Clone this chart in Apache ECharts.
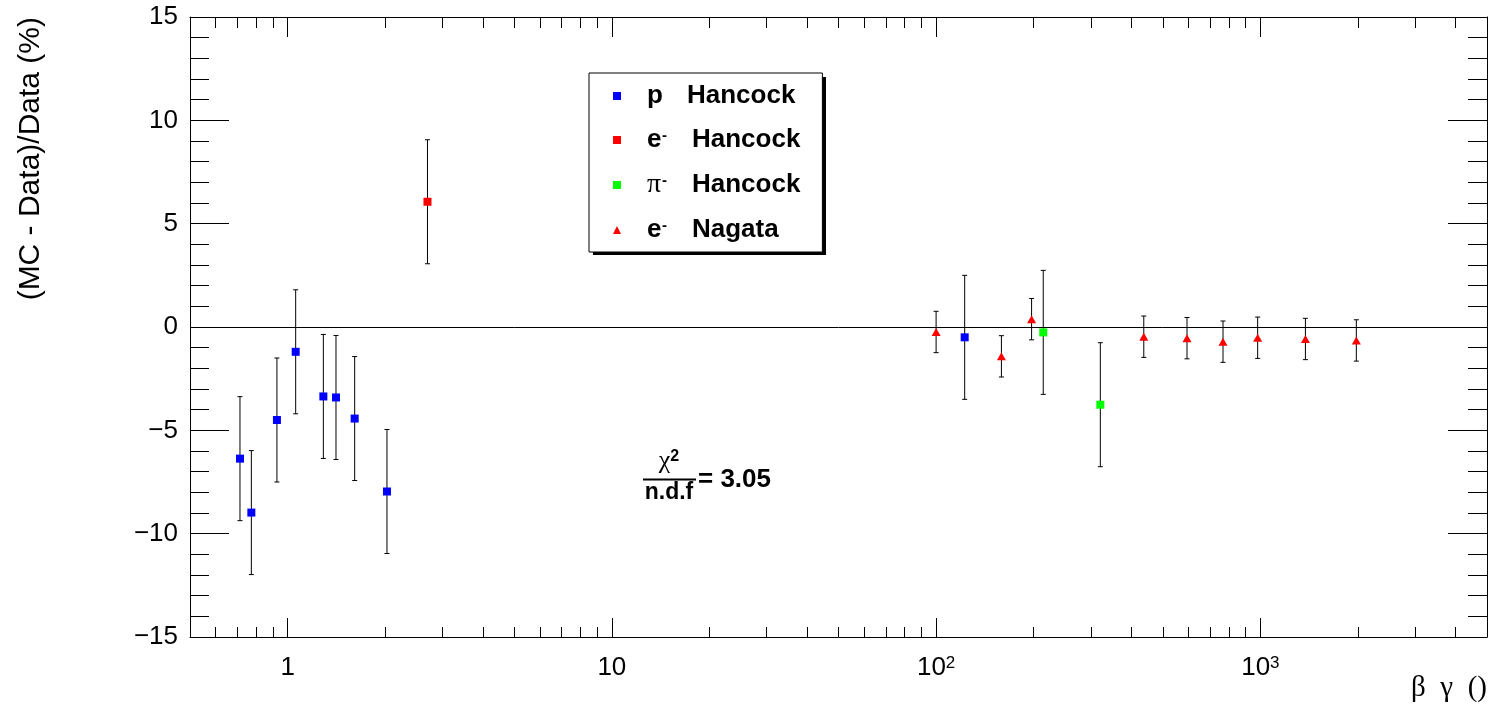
<!DOCTYPE html>
<html>
<head>
<meta charset="utf-8">
<title>(MC - Data)/Data vs beta gamma</title>
<script src="https://cdn.jsdelivr.net/npm/echarts@6/dist/echarts.min.js"></script>
<style>
  html, body { margin: 0; padding: 0; background: #fff; }
  #chart { width: 1493px; height: 707px; }
</style>
</head>
<body>
<div id="chart"></div>
<script>
// values: beta*gamma, (MC - Data)/Data in %, error
var pHancockX = [0.713, 0.773, 0.927, 1.059, 1.289, 1.41, 1.61, 2.025, 122.5];
var pHancockY = [-6.37, -8.98, -4.5, -1.2, -3.36, -3.41, -4.43, -7.96, -0.5];
var pHancockErr = [3, 3, 3, 3, 3, 3, 3, 3, 3];

var eHancockX = [2.70];
var eHancockY = [6.06];
var eHancockErr = [3];

var piHancockX = [214, 321];
var piHancockY = [-0.26, -3.76];
var piHancockErr = [3, 3];

var eNagataX = [100, 159, 197, 437, 594, 767, 981, 1377, 1977];
var eNagataY = [-0.24, -1.42, 0.38, -0.47, -0.54, -0.71, -0.52, -0.58, -0.65];
var eNagataErr = [1, 1, 1, 1, 1, 1, 1, 1, 1];

var xMajorTicks = [1, 10, 100, 1000];
var xMinorTicks = [0.6, 0.7, 0.8, 0.9, 2, 3, 4, 5, 6, 7, 8, 9,
    20, 30, 40, 50, 60, 70, 80, 90, 200, 300, 400, 500, 600, 700, 800, 900,
    2000, 3000, 4000];

var chart = echarts.init(document.getElementById('chart'));

var pairs = function (xs, ys) {
    return xs.map(function (x, i) { return [x, ys[i]]; });
};
var errRows = function (xs, ys, es) {
    return xs.map(function (x, i) { return [x, ys[i], es[i]]; });
};

var errData = [].concat(
    errRows(pHancockX, pHancockY, pHancockErr),
    errRows(eHancockX, eHancockY, eHancockErr),
    errRows(piHancockX, piHancockY, piHancockErr),
    errRows(eNagataX, eNagataY, eNagataErr)
);

var FONT = 'Liberation Sans';
var black = '#000';
var lineBlack = {color: black, width: 1};

var logAxis = function (pos, tickLen, ticks, withLine) {
    return {
        type: 'log', logBase: 10, min: 0.5, max: 5000,
        position: pos,
        axisLine: {show: withLine, onZero: false, lineStyle: lineBlack},
        axisTick: {show: true, inside: true, length: tickLen, customValues: ticks, lineStyle: lineBlack},
        axisLabel: {show: false},
        splitLine: {show: false},
        minorTick: {show: false},
        minorSplitLine: {show: false}
    };
};

var xBottom = logAxis('bottom', 19, xMajorTicks, true);
xBottom.axisLabel = {
    show: true,
    customValues: xMajorTicks,
    margin: 18,
    color: black,
    fontFamily: FONT,
    fontSize: 26,
    formatter: function (v) {
        var p = Math.round(Math.log(v) / Math.LN10);
        if (p < 2) return String(Math.round(v));
        return '{b|10}{s|' + p + '}';
    },
    rich: {
        b: {fontFamily: FONT, fontSize: 26, color: black, lineHeight: 26},
        s: {fontFamily: FONT, fontSize: 17, color: black, verticalAlign: 'top', lineHeight: 14}
    }
};
xBottom.name = 'β  γ  ()';
xBottom.nameLocation = 'end';
xBottom.nameGap = 0;
xBottom.nameTextStyle = {
    fontFamily: 'Liberation Serif', fontSize: 29, color: black,
    align: 'right', verticalAlign: 'top', padding: [37, 0, 0, 0]
};

var valAxis = function (pos, showLabel) {
    return {
        type: 'value', min: -15, max: 15, interval: 5,
        position: pos,
        axisLine: {show: true, onZero: false, lineStyle: lineBlack},
        axisTick: {show: true, inside: true, length: 39, lineStyle: lineBlack},
        minorTick: {show: true, splitNumber: 5, length: 19, lineStyle: lineBlack},
        splitLine: {show: false},
        minorSplitLine: {show: false},
        axisLabel: {
            show: showLabel,
            margin: 12,
            color: black,
            fontFamily: FONT,
            fontSize: 26,
            formatter: function (v) {
                return v < 0 ? '\u2212' + Math.abs(v) : String(v);
            }
        }
    };
};

var legendLabels = {
    'p Hancock': '{p|p}{t|Hancock}',
    'e- Hancock': '{e|e}{sup|-}{t|Hancock}',
    'π- Hancock': '{pi|π}{sup|-}{t|Hancock}',
    'e- Nagata': '{e|e}{sup|-}{t|Nagata}'
};

var option = {
    animation: false,
    backgroundColor: '#fff',
    grid: {left: 190, top: 17, width: 1297, height: 620, containLabel: false},
    xAxis: [
        xBottom,
        logAxis('bottom', 10, xMinorTicks, false),
        logAxis('top', 20, xMajorTicks, true),
        logAxis('top', 11, xMinorTicks, false)
    ],
    yAxis: [valAxis('left', true), valAxis('right', false)],
    legend: {
        orient: 'vertical',
        left: 589,
        top: 73,
        padding: [10, 22, 9, 24],
        itemGap: 18,
        itemWidth: 8,
        itemHeight: 8,
        backgroundColor: '#fff',
        borderColor: black,
        borderWidth: 1,
        z: 5,
        selectedMode: false,
        data: [
            {name: 'p Hancock', icon: 'rect'},
            {name: 'e- Hancock', icon: 'rect'},
            {name: 'π- Hancock', icon: 'rect'},
            {name: 'e- Nagata', icon: 'triangle'}
        ],
        formatter: function (name) { return legendLabels[name]; },
        textStyle: {
            padding: [0, 0, 0, 21],
            rich: {
                p: {fontFamily: FONT, fontWeight: 'bold', fontSize: 26, color: black, width: 40, lineHeight: 24},
                e: {fontFamily: FONT, fontWeight: 'bold', fontSize: 26, color: black, width: 15, lineHeight: 24},
                pi: {fontFamily: 'Liberation Serif', fontSize: 28, color: black, width: 15, lineHeight: 24},
                sup: {fontFamily: FONT, fontWeight: 'bold', fontSize: 15, color: black, width: 30, lineHeight: 12, verticalAlign: 'top'},
                t: {fontFamily: FONT, fontWeight: 'bold', fontSize: 26, color: black, lineHeight: 24}
            }
        }
    },
    graphic: [
        {
            // hard drop shadow behind the legend box
            type: 'rect',
            z: 4,
            shape: {x: 593, y: 77, width: 233, height: 178},
            style: {fill: black}
        },
        {
            type: 'text',
            x: 31, y: 17,
            rotation: Math.PI / 2,
            style: {
                text: '(MC - Data)/Data (%)',
                fontFamily: FONT, fontSize: 30, fill: black,
                align: 'right', verticalAlign: 'middle'
            }
        },
        {
            type: 'group',
            children: [
                {
                    type: 'text', x: 669, y: 461,
                    style: {
                        text: '{c|χ}{s|2}',
                        align: 'center', verticalAlign: 'middle',
                        rich: {
                            c: {fontFamily: 'Liberation Serif', fontSize: 26, fill: black, lineHeight: 24},
                            s: {fontFamily: FONT, fontWeight: 'bold', fontSize: 16, fill: black, lineHeight: 14, verticalAlign: 'top'}
                        }
                    }
                },
                {
                    type: 'line',
                    shape: {x1: 643, y1: 479.5, x2: 696, y2: 479.5},
                    style: {stroke: black, lineWidth: 2}
                },
                {
                    type: 'text', x: 669, y: 493,
                    style: {
                        text: 'n.d.f', fontFamily: FONT, fontWeight: 'bold', fontSize: 23, fill: black,
                        align: 'center', verticalAlign: 'middle'
                    }
                },
                {
                    type: 'text', x: 698, y: 480,
                    style: {
                        text: '= 3.05', fontFamily: FONT, fontWeight: 'bold', fontSize: 26, fill: black,
                        align: 'left', verticalAlign: 'middle'
                    }
                }
            ]
        }
    ],
    series: [
        {
            name: 'errors',
            type: 'custom',
            xAxisIndex: 0,
            yAxisIndex: 0,
            z: 1,
            silent: true,
            encode: {x: 0, y: 1},
            data: errData,
            renderItem: function (params, api) {
                var x = api.value(0), y = api.value(1), e = api.value(2);
                var top = api.coord([x, y + e]);
                var bot = api.coord([x, y - e]);
                var st = {stroke: black, lineWidth: 1};
                return {
                    type: 'group',
                    children: [
                        {type: 'line', shape: {x1: top[0], y1: top[1], x2: bot[0], y2: bot[1]}, style: st},
                        {type: 'line', shape: {x1: top[0] - 2.5, y1: top[1], x2: top[0] + 2.5, y2: top[1]}, style: st},
                        {type: 'line', shape: {x1: bot[0] - 2.5, y1: bot[1], x2: bot[0] + 2.5, y2: bot[1]}, style: st}
                    ]
                };
            }
        },
        {
            name: 'p Hancock',
            type: 'scatter',
            z: 3,
            symbol: 'rect',
            symbolSize: 8,
            itemStyle: {color: '#0000ff', opacity: 1},
            data: pairs(pHancockX, pHancockY),
            markLine: {
                silent: true,
                symbol: 'none',
                label: {show: false},
                lineStyle: {color: black, width: 1, type: 'solid', opacity: 1},
                data: [{yAxis: 0}]
            }
        },
        {
            name: 'e- Hancock',
            type: 'scatter',
            z: 3,
            symbol: 'rect',
            symbolSize: 8,
            itemStyle: {color: '#ff0000', opacity: 1},
            data: pairs(eHancockX, eHancockY)
        },
        {
            name: 'π- Hancock',
            type: 'scatter',
            z: 3,
            symbol: 'rect',
            symbolSize: 8,
            itemStyle: {color: '#00ff00', opacity: 1},
            data: pairs(piHancockX, piHancockY)
        },
        {
            name: 'e- Nagata',
            type: 'scatter',
            z: 3,
            symbol: 'triangle',
            symbolSize: [9, 8],
            itemStyle: {color: '#ff0000', opacity: 1},
            data: pairs(eNagataX, eNagataY)
        }
    ]
};

chart.setOption(option);
</script>
</body>
</html>
